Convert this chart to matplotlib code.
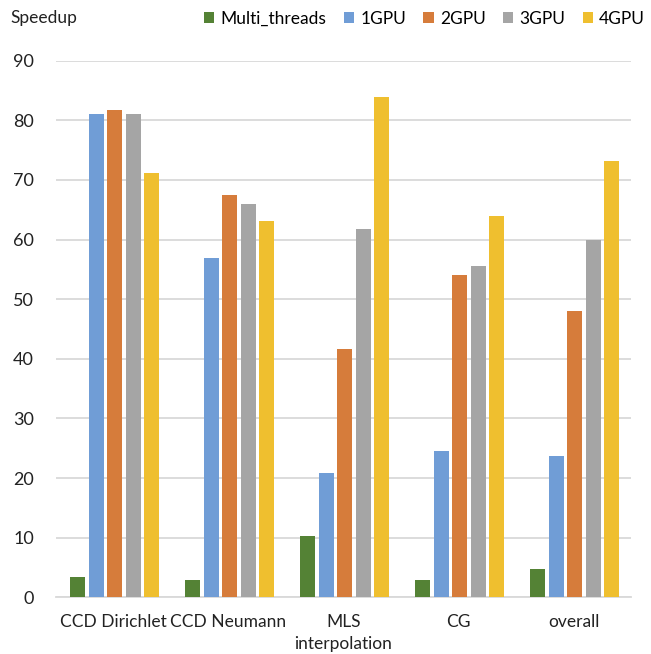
import numpy as np
import matplotlib
matplotlib.use("Agg")
import matplotlib.pyplot as plt

plt.rcParams["font.family"] = ["Lato", "DejaVu Sans"]

CATEGORIES = ["CCD Dirichlet", "CCD Neumann", "MLS\ninterpolation", "CG", "overall"]
SERIES = ["Multi_threads", "1GPU", "2GPU", "3GPU", "4GPU"]
MULTI_THREADS = [3.4, 2.9, 10.2, 2.9, 4.7]
GPU1 = [81.0, 56.9, 20.9, 24.5, 23.7]
GPU2 = [81.8, 67.5, 41.7, 54.0, 48.0]
GPU3 = [81.0, 66.0, 61.7, 55.6, 60.0]
GPU4 = [71.1, 63.1, 83.9, 63.9, 73.2]
COLORS = ["#548235", "#709DD6", "#D67C3B", "#A5A5A5", "#EFBF2F"]

values = [MULTI_THREADS, GPU1, GPU2, GPU3, GPU4]

fig = plt.figure(figsize=(6.51, 6.54), dpi=100)
ax = fig.add_axes([56 / 651, 1 - 597.3 / 654, 575 / 651, (597.3 - 60.7) / 654])

x = np.arange(len(CATEGORIES))
slot = 0.161
width = 0.13
for i, (name, vals, col) in enumerate(zip(SERIES, values, COLORS)):
    ax.bar(x + (i - 2) * slot + 0.01, vals, width, color=col, label=name, zorder=3)

ax.set_xlim(-0.5, len(CATEGORIES) - 0.5)
ax.set_ylim(0, 90)
ax.set_yticks(range(0, 91, 10))
ax.set_xticks(x)
ax.set_xticklabels(CATEGORIES, fontsize=12.5, color="#222222", linespacing=1.45)
ax.tick_params(axis="y", labelsize=13, colors="#222222", length=0, pad=16)
ax.tick_params(axis="x", length=0, pad=12)
ax.grid(axis="y", color="#D9D9D9", linewidth=1.3, zorder=0)
for s in ["top", "right", "left"]:
    ax.spines[s].set_visible(False)
ax.spines["bottom"].set_color("#D9D9D9")
ax.spines["bottom"].set_linewidth(1.3)

fig.text(10 / 651, 1 - 17.5 / 654, "Speedup", fontsize=12.5, color="#222222", va="center")
fig.legend(loc="center right", bbox_to_anchor=(645 / 651, 1 - 18.5 / 654), ncol=5,
           frameon=False, fontsize=12.5, handlelength=0.6, handleheight=0.6,
           handletextpad=0.35, columnspacing=1.0, borderaxespad=0, borderpad=0)

fig.savefig("out.png", dpi=100)
